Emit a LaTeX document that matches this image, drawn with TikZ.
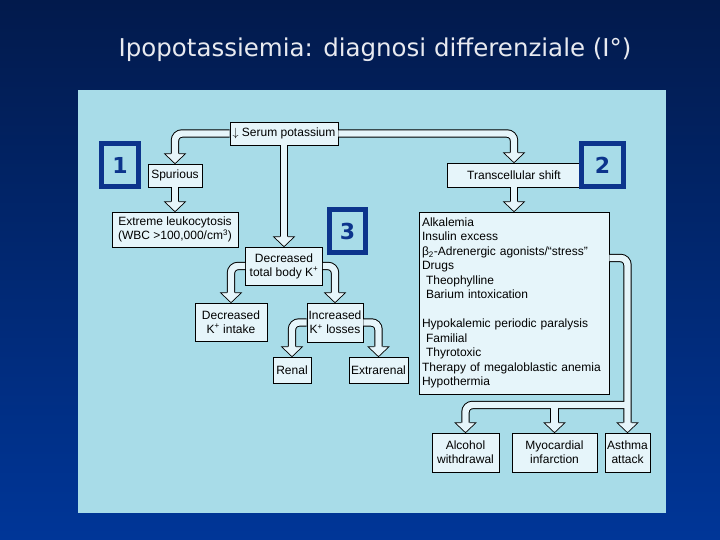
\documentclass[tikz,border=0pt]{standalone}
\usepackage{fontspec}
\setmainfont{Liberation Sans}
\newfontfamily\verdfont{DejaVu Sans}
\usetikzlibrary{calc}
\definecolor{bgtop}{RGB}{2,26,76}
\definecolor{bgbot}{RGB}{0,54,152}
\definecolor{panel}{RGB}{168,220,232}
\definecolor{boxfill}{RGB}{230,245,250}
\definecolor{numblue}{RGB}{12,52,140}
\definecolor{titlegray}{RGB}{232,234,240}

\begin{document}
\begin{tikzpicture}[x=1pt, y=-1pt,
    kbox/.style={draw, fill=boxfill, line width=0.6pt, inner sep=1pt, align=center, font=\fontsize{12}{14}\selectfont},
    knum/.style={draw=numblue, line width=4.6pt, fill=panel, text=numblue, font=\verdfont\bfseries\fontsize{22}{22}\selectfont, inner sep=0pt},
    shaftout/.style={draw=black, line width=8.4pt, rounded corners=7pt, shorten >=9.5pt},
    shaftin/.style={draw=boxfill, line width=6.4pt, rounded corners=7pt, shorten >=9.5pt},
    khead/.pic={\draw[fill=boxfill, line width=0.7pt] (-4.2,-10) -- (-10.5,-10) -- (0,0) -- (10.5,-10) -- (4.2,-10);}
]
% slide background and panel
\shade[top color=bgtop, bottom color=bgbot] (0,0) rectangle (720,540);
\fill[panel] (78,90) rectangle (666,513);
\node[text=titlegray, font=\verdfont\fontsize{24.5}{27}\selectfont, anchor=base] (title) at (375,57) {Ipopotassiemia: diagnosi differenziale (I°)};

% boxes of the flow chart
\node[kbox, minimum width=108pt, minimum height=23pt] (serum) at (284,133.5) {$\downarrow$ Serum potassium};
\node[kbox, minimum width=54pt, minimum height=23pt] (spur) at (175,175.5) {Spurious};
\node[kbox, minimum width=126pt, minimum height=35pt] (leuk) at (175,229.5) {Extreme leukocytosis\\(WBC >100,000/cm\textsuperscript{3})};
\node[kbox, minimum width=134pt, minimum height=24pt] (trans) at (514,175) {Transcellular shift};
\node[kbox, minimum width=77pt, minimum height=38pt] (dtb) at (284,266) {Decreased\\total body K\textsuperscript{+}};
\node[kbox, minimum width=72pt, minimum height=38pt] (dint) at (231,322) {Decreased\\K\textsuperscript{+} intake};
\node[kbox, minimum width=56pt, minimum height=39pt] (ilos) at (335,322.5) {Increased\\K\textsuperscript{+} losses};
\node[kbox, minimum width=38pt, minimum height=26pt] (renal) at (292,370) {Renal};
\node[kbox, minimum width=59pt, minimum height=26pt] (extra) at (378.5,370) {Extrarenal};
\node[kbox, align=left, text width=184pt, minimum height=182pt, inner sep=3pt, font=\fontsize{12}{14.5}\selectfont] (list) at (514,303) {Alkalemia\\
    Insulin excess\\
    β\textsubscript{2}-Adrenergic agonists/“stress”\\
    Drugs\\
    \hspace*{4pt}Theophylline\\
    \hspace*{4pt}Barium intoxication\\[14.5pt]
    Hypokalemic periodic paralysis\\
    \hspace*{4pt}Familial\\
    \hspace*{4pt}Thyrotoxic\\
    \mbox{Therapy of megaloblastic anemia}\\
    Hypothermia};
\node[kbox, minimum width=67pt, minimum height=39pt] (alc) at (465.5,452.5) {Alcohol\\withdrawal};
\node[kbox, minimum width=85pt, minimum height=39pt] (myo) at (554.5,452.5) {Myocardial\\infarction};
\node[kbox, minimum width=45pt, minimum height=39pt] (asth) at (627.5,452.5) {Asthma\\attack};

% hollow block arrows
\coordinate (betaln) at (0,258);
\coordinate (fork) at (0,405);
\foreach \pass in {shaftout,shaftin}{
  \draw[\pass] (serum.west) -| (spur.north);
  \draw[\pass] (serum.east) -| (trans.north);
  \draw[\pass] (serum.south) -- (dtb.north);
  \draw[\pass] (spur.south) -- (leuk.north);
  \draw[\pass] (trans.south) -- (list.north);
  \draw[\pass] (dtb.west) -| (dint.north);
  \draw[\pass] (dtb.east) -| (ilos.north);
  \draw[\pass] (ilos.west) -| (renal.north);
  \draw[\pass] (ilos.east) -| (extra.north);
  \draw[\pass] (list.east |- betaln) -| (asth.north);
  \draw[\pass] (asth.north |- fork) -| (alc.north);
  \draw[\pass] (myo.north |- fork) -- (myo.north);
}
\foreach \n in {spur,trans,dtb,leuk,list,dint,ilos,renal,extra,asth,alc,myo}
  \pic at (\n.north) {khead};

% numbered tags
\node[knum, minimum width=37pt, minimum height=43pt] (n1) at (120,165) {1};
\node[knum, minimum width=42pt, minimum height=43pt] (n2) at (602.5,165) {2};
\node[knum, minimum width=36pt, minimum height=43pt] (n3) at (347.5,231) {3};
\end{tikzpicture}
\end{document}
